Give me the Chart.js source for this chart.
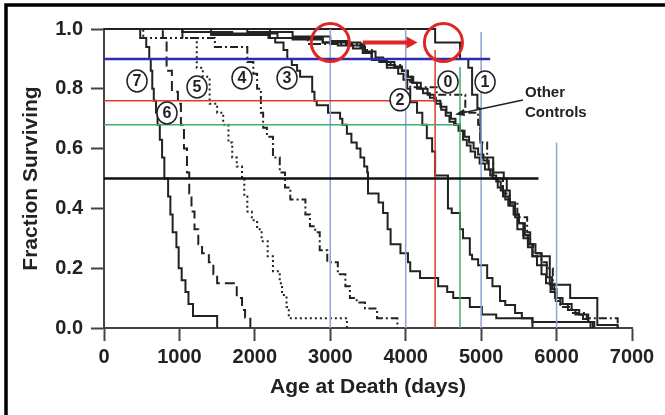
<!DOCTYPE html>
<html>
<head>
<meta charset="utf-8">
<script src="https://cdn.jsdelivr.net/npm/chart.js@4.4.0/dist/chart.umd.min.js"></script>
<style>
  html, body { margin: 0; padding: 0; background: #fff; }
  #wrap { width: 665px; height: 415px; }
</style>
</head>
<body>
<div id="wrap"><canvas id="grafico" width="665" height="415"></canvas></div>
<script>
// --- Dados (dia da morte -> fração que sobra depois) ---
const c7Days = [480, 560, 600, 620, 640, 660, 690, 710, 740, 770, 800, 850, 880, 910, 960, 990, 1030, 1080, 1120, 1180, 1500];
const c7Surv = [0.97, 0.94, 0.9, 0.86, 0.8, 0.76, 0.72, 0.68, 0.63, 0.57, 0.5, 0.44, 0.38, 0.32, 0.27, 0.2, 0.16, 0.12, 0.08, 0.04, 0];

const c6Days = [780, 830, 900, 980, 1020, 1060, 1100, 1130, 1160, 1200, 1250, 1300, 1390, 1450, 1500, 1760, 1830, 1870, 1940];
const c6Surv = [0.97, 0.86, 0.79, 0.75, 0.68, 0.6, 0.52, 0.45, 0.39, 0.33, 0.28, 0.25, 0.22, 0.18, 0.15, 0.1, 0.06, 0.035, 0];

const c5Days = [520, 1230, 1310, 1400, 1500, 1580, 1650, 1700, 1760, 1830, 1860, 1900, 1960, 2030, 2090, 2170, 2240, 2330, 2360, 2420, 2450, 3220];
const c5Surv = [0.97, 0.87, 0.84, 0.75, 0.72, 0.68, 0.62, 0.57, 0.54, 0.5, 0.44, 0.39, 0.36, 0.33, 0.29, 0.24, 0.19, 0.15, 0.11, 0.07, 0.033, 0];

const c4Days = [1040, 1470, 1900, 1980, 2030, 2080, 2110, 2160, 2240, 2330, 2400, 2470, 2670, 2730, 2800, 2860, 2960, 3100, 3200, 3260, 3350, 3460, 3620, 3890];
const c4Surv = [0.97, 0.94, 0.89, 0.85, 0.8, 0.72, 0.67, 0.64, 0.57, 0.52, 0.47, 0.43, 0.38, 0.34, 0.32, 0.26, 0.22, 0.18, 0.14, 0.1, 0.085, 0.065, 0.033, 0];

const c3Days = [1040, 1700, 2180, 2270, 2380, 2430, 2490, 2560, 2600, 2760, 2790, 2820, 2970, 3130, 3160, 3220, 3280, 3350, 3400, 3450, 3490, 3500, 3640, 3700, 3760, 3800, 3930, 4030, 4060, 4190, 4430, 4550, 4630, 4850, 5010, 5200, 5680];
const c3Surv = [0.99, 0.98, 0.97, 0.955, 0.93, 0.9, 0.88, 0.86, 0.84, 0.79, 0.76, 0.745, 0.72, 0.7, 0.68, 0.65, 0.62, 0.6, 0.57, 0.54, 0.52, 0.45, 0.42, 0.385, 0.33, 0.28, 0.25, 0.22, 0.19, 0.167, 0.14, 0.12, 0.1, 0.07, 0.045, 0.033, 0];

const c2Days = [1420, 2300, 2900, 3400, 3460, 3550, 3750, 3900, 3970, 4020, 4060, 4150, 4220, 4280, 4350, 4390, 4560, 4610, 4720, 4760, 4850, 4880, 4960, 5080, 5150, 5250, 5320, 5450, 5540, 5680, 6450];
const c2Surv = [0.985, 0.97, 0.955, 0.94, 0.92, 0.896, 0.87, 0.85, 0.83, 0.8, 0.755, 0.72, 0.68, 0.635, 0.59, 0.51, 0.4, 0.385, 0.33, 0.3, 0.245, 0.23, 0.21, 0.167, 0.14, 0.09, 0.077, 0.05, 0.033, 0.02, 0];

const c1Days = [4390, 4720, 4830, 4880, 4950, 4990, 5010, 5160, 5300, 5340, 5380, 5450, 5480, 5560, 5620, 5680, 5910, 6180, 6540, 6810];
const c1Surv = [0.955, 0.9, 0.87, 0.78, 0.735, 0.62, 0.57, 0.52, 0.5, 0.46, 0.42, 0.37, 0.33, 0.3, 0.28, 0.24, 0.145, 0.1, 0.01, 0];

const c0Days = [2200, 2700, 3450, 3550, 3800, 3950, 4000, 4060, 4410, 4790, 4960, 4990, 5080, 5160, 5290, 5380, 5480, 5610, 5650, 5690, 5800, 5870, 5950, 5970, 5990, 6050, 6200, 6400, 6810];
const c0Surv = [0.97, 0.95, 0.93, 0.9, 0.88, 0.86, 0.83, 0.805, 0.78, 0.72, 0.68, 0.62, 0.55, 0.5, 0.45, 0.42, 0.37, 0.32, 0.28, 0.25, 0.22, 0.2, 0.16, 0.12, 0.09, 0.07, 0.05, 0.033, 0];

const ctlADays = [1040, 1420, 2200, 2500, 2900, 3100, 3300, 3430, 3550, 3650, 3750, 3850, 3950, 4020, 4080, 4150, 4230, 4320, 4400, 4470, 4530, 4580, 4640, 4700, 4760, 4810, 4860, 4920, 4980, 5050, 5120, 5200, 5260, 5320, 5380, 5440, 5500, 5560, 5620, 5680, 5740, 5800, 5860, 5920, 5980, 6050, 6150, 6250, 6350, 6420, 6480];
const ctlASurv = [0.99, 0.98, 0.97, 0.965, 0.955, 0.945, 0.935, 0.92, 0.9, 0.89, 0.88, 0.87, 0.86, 0.84, 0.82, 0.8, 0.785, 0.77, 0.75, 0.73, 0.71, 0.69, 0.68, 0.66, 0.63, 0.61, 0.59, 0.57, 0.55, 0.53, 0.51, 0.49, 0.46, 0.43, 0.41, 0.38, 0.35, 0.31, 0.27, 0.24, 0.21, 0.18, 0.15, 0.12, 0.1, 0.08, 0.06, 0.045, 0.03, 0.02, 0];

const ctlBDays = [1900, 2500, 3000, 3250, 3450, 3600, 3700, 3850, 3950, 4030, 4100, 4200, 4290, 4380, 4460, 4540, 4600, 4660, 4720, 4780, 4840, 4900, 4960, 5030, 5100, 5150, 5220, 5290, 5360, 5430, 5500, 5580, 5650, 5720, 5800, 5870, 5940, 6000, 6080, 6200, 6300, 6420, 6500];
const ctlBSurv = [0.99, 0.975, 0.96, 0.945, 0.925, 0.905, 0.89, 0.875, 0.86, 0.84, 0.82, 0.8, 0.78, 0.76, 0.74, 0.72, 0.7, 0.68, 0.66, 0.64, 0.62, 0.6, 0.58, 0.56, 0.53, 0.5, 0.47, 0.44, 0.41, 0.38, 0.35, 0.31, 0.28, 0.25, 0.21, 0.17, 0.13, 0.1, 0.08, 0.06, 0.045, 0.02, 0];

// Linhas de referência horizontais (nível, até que dia) e verticais (dia, até que fração)
const hLevels = [0.9, 0.76, 0.68, 0.5];
const hEnds = [5120, 4390, 4720, 5760];
const hColors = ['#2d2db4', '#de3b2e', '#3fae70', '#111111'];
const vDays = [3000, 4000, 5000, 6000, 4390, 4720];
const vTops = [1.0, 1.0, 0.99, 0.62, 0.93, 0.873];
const vColors = ['#90a4cf', '#90a4cf', '#90a4cf', '#90a4cf', '#de3b2e', '#3fae70'];

// Rótulos circulados das curvas
const labelNames = ['7', '6', '5', '4', '3', '2', '0', '1'];
const labelDays = [438, 835, 1233, 1830, 2427, 3925, 4561, 5052];
const labelFrac = [0.826, 0.719, 0.806, 0.836, 0.836, 0.763, 0.823, 0.823];

// Círculos vermelhos e seta entre eles
const ringDays = [3000, 4500];
const ringFrac = [0.955, 0.955];
const arrowDays = [3430, 4130];
const arrowFrac = 0.955;

const FONTE = "'Liberation Sans', Arial, sans-serif";
const TINTA = '#222';

function curva(days, surv) {
    return [{ x: 0, y: 1 }].concat(days.map((d, i) => ({ x: d, y: surv[i] })));
}

function dsCurva(days, surv, dash) {
    return {
        data: curva(days, surv),
        borderColor: TINTA,
        borderWidth: 2,
        borderDash: dash,
        stepped: 'before',
        pointRadius: 0,
        fill: false,
        clip: 6,
        order: 2
    };
}

const datasets = [
    dsCurva(c7Days, c7Surv, []),
    dsCurva(c6Days, c6Surv, [10, 5]),
    dsCurva(c5Days, c5Surv, [2, 3]),
    dsCurva(c4Days, c4Surv, [8, 3, 2, 3]),
    dsCurva(c3Days, c3Surv, []),
    dsCurva(c2Days, c2Surv, []),
    dsCurva(ctlADays, ctlASurv, []),
    dsCurva(ctlBDays, ctlBSurv, []),
    dsCurva(c0Days, c0Surv, [8, 3, 2, 3]),
    dsCurva(c1Days, c1Surv, [])
];

hLevels.forEach((lv, i) => {
    datasets.push({
        data: [{ x: 0, y: lv }, { x: hEnds[i], y: lv }],
        borderColor: hColors[i],
        borderWidth: (i === 0 || i === 3) ? 2.5 : 1.5,
        pointRadius: 0, fill: false, clip: 6, order: 1
    });
});
vDays.forEach((d, i) => {
    datasets.push({
        data: [{ x: d, y: 0 }, { x: d, y: vTops[i] }],
        borderColor: vColors[i],
        borderWidth: 1.5,
        pointRadius: 0, fill: false, clip: 6, order: 1
    });
});

// Desenha anotações: moldura, títulos, círculos, setas e rótulos
const anotacoes = {
    id: 'anotacoes',
    afterDatasetsDraw(chart) {
        const { ctx, scales: { x, y } } = chart;
        ctx.save();

        // moldura (topo e esquerda)
        ctx.strokeStyle = '#000';
        ctx.lineWidth = 3.5;
        ctx.beginPath();
        ctx.moveTo(665, 5); ctx.lineTo(6, 5); ctx.lineTo(6, 415);
        ctx.stroke();

        // círculos vermelhos
        ctx.strokeStyle = '#e02424';
        ctx.lineWidth = 3;
        ringDays.forEach((d, i) => {
            ctx.beginPath();
            ctx.arc(x.getPixelForValue(d), y.getPixelForValue(ringFrac[i]), 19, 0, Math.PI * 2);
            ctx.stroke();
        });

        // seta vermelha
        const ay = y.getPixelForValue(arrowFrac);
        const ax0 = x.getPixelForValue(arrowDays[0]);
        const ax1 = x.getPixelForValue(arrowDays[1]);
        ctx.lineWidth = 4;
        ctx.beginPath();
        ctx.moveTo(ax0, ay); ctx.lineTo(ax1 - 8, ay);
        ctx.stroke();
        ctx.fillStyle = '#e02424';
        ctx.beginPath();
        ctx.moveTo(ax1 + 2, ay); ctx.lineTo(ax1 - 9, ay - 6); ctx.lineTo(ax1 - 9, ay + 6);
        ctx.closePath();
        ctx.fill();

        // rótulos circulados
        ctx.lineWidth = 1.5;
        ctx.strokeStyle = TINTA;
        ctx.textAlign = 'center';
        ctx.textBaseline = 'middle';
        ctx.font = `bold 16px ${FONTE}`;
        labelNames.forEach((t, i) => {
            const px = x.getPixelForValue(labelDays[i]);
            const py = y.getPixelForValue(labelFrac[i]);
            ctx.fillStyle = '#fff';
            ctx.beginPath();
            ctx.ellipse(px, py, 10, 11, 0, 0, Math.PI * 2);
            ctx.fill();
            ctx.stroke();
            ctx.fillStyle = TINTA;
            ctx.fillText(t, px, py + 1);
        });

        // "Other Controls" e sua seta
        ctx.textAlign = 'left';
        ctx.font = `bold 15px ${FONTE}`;
        ctx.fillText('Other', 525, 93);
        ctx.fillText('Controls', 525, 113);
        ctx.lineWidth = 1.5;
        ctx.beginPath();
        ctx.moveTo(523, 100); ctx.lineTo(462, 113);
        ctx.stroke();
        ctx.beginPath();
        ctx.moveTo(455, 114.5); ctx.lineTo(464, 109); ctx.lineTo(465, 116);
        ctx.closePath();
        ctx.fill();

        // títulos dos eixos
        ctx.font = `bold 21px ${FONTE}`;
        ctx.textAlign = 'center';
        ctx.fillText('Age at Death (days)', (x.left + x.right) / 2, 387);
        ctx.translate(31, (y.top + y.bottom) / 2);
        ctx.rotate(-Math.PI / 2);
        ctx.fillText('Fraction Surviving', 0, 0);
        ctx.restore();
    }
};

const grafico = new Chart(document.getElementById('grafico'), {
    type: 'line',
    data: { datasets: datasets },
    options: {
        responsive: false,
        animation: false,
        layout: { padding: { top: 29, right: 33, left: 0, bottom: 0 } },
        plugins: { legend: { display: false }, tooltip: { enabled: false } },
        scales: {
            x: {
                type: 'linear', min: 0, max: 7000,
                ticks: { stepSize: 1000, color: TINTA, padding: 4, font: { family: FONTE, size: 20, weight: 'bold' },
                         callback: v => String(v) },
                grid: { drawOnChartArea: false, tickLength: 13, tickWidth: 2, color: '#444' },
                border: { width: 2, color: '#444' },
                afterFit: s => { s.height = 87; }
            },
            y: {
                min: 0, max: 1,
                ticks: { stepSize: 0.2, color: TINTA, padding: 8, font: { family: FONTE, size: 20, weight: 'bold' },
                         callback: v => v.toFixed(1) },
                grid: { drawOnChartArea: false, tickLength: 13, tickWidth: 2, color: '#444' },
                border: { width: 2, color: '#444' },
                afterFit: s => { s.width = 104; }
            }
        }
    },
    plugins: [anotacoes]
});
</script>
</body>
</html>
